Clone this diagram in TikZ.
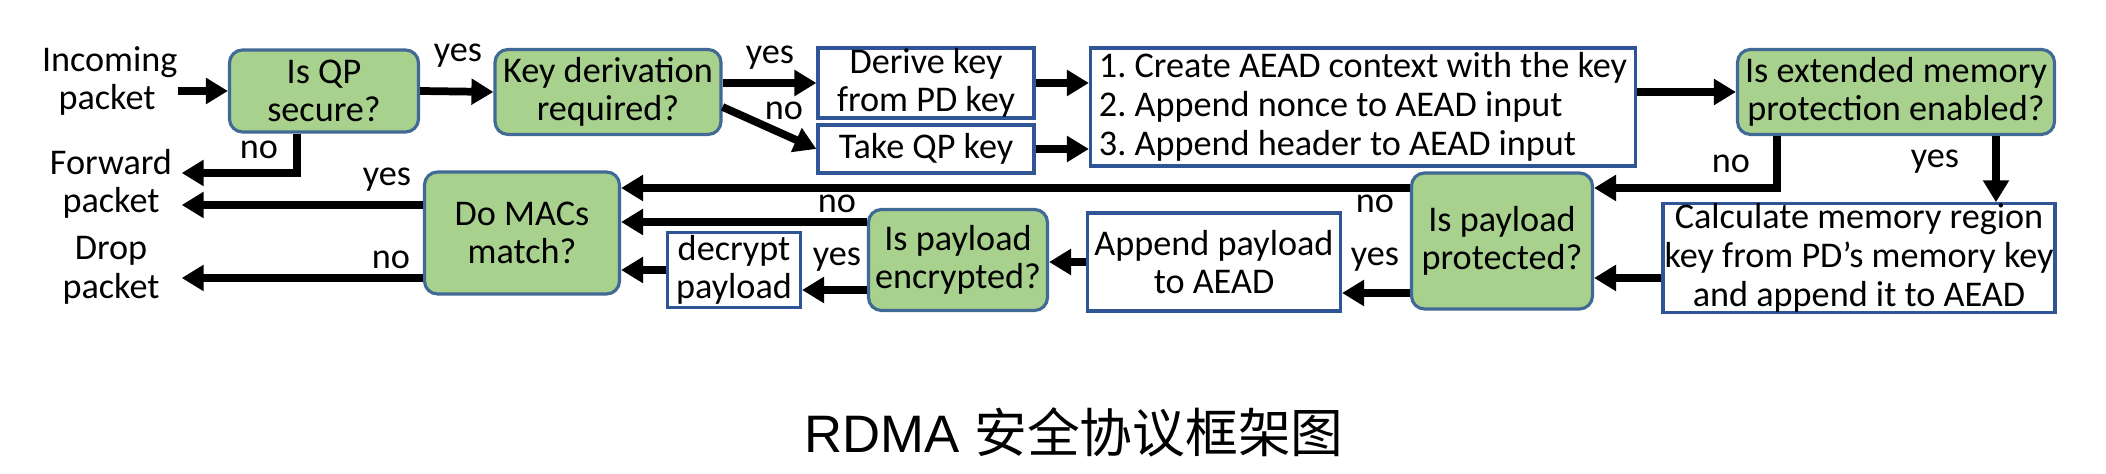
\documentclass[tikz,border=0pt]{standalone}
\usepackage{fontspec}
\setmainfont{Carlito}
\newfontfamily\titlefont{Liberation Sans}
\newfontfamily\cjk{Noto Sans CJK SC}
\usetikzlibrary{arrows.meta}

\definecolor{boxgreen}{RGB}{169,209,142}
\definecolor{boxedge}{RGB}{65,105,150}
\definecolor{rectedge}{RGB}{47,85,151}

\begin{document}
\frenchspacing
\begin{tikzpicture}[font=\fontsize{10.3}{11}\selectfont,
    >={Triangle[length=0.22cm,width=0.25cm]},
    decision/.style={draw=boxedge, fill=boxgreen, line width=0.9pt, rounded corners=0.13cm, align=center, inner sep=0pt},
    proc/.style={draw=rectedge, fill=white, line width=0.9pt, align=center, inner sep=0pt},
    term/.style={align=center, text width=1.3cm, inner xsep=0.05cm},
    flow/.style={->, line width=2.2pt},
    lbl/.style={inner sep=0pt}]

    \useasboundingbox (0,0) rectangle (21.06,4.74);

    % --- Riga superiore ---
    \node[term] (in) at (1.07,3.93) {Incoming\\packet};
    \node[decision, minimum width=1.89cm, minimum height=0.82cm] (qp) at (3.24,3.83) {Is QP\\secure?};
    \node[decision, minimum width=2.26cm, minimum height=0.85cm] (kd) at (6.08,3.82) {Key derivation\\required?};
    \node[proc, minimum width=2.16cm, minimum height=0.70cm] (dk) at (9.26,3.91) {Derive key\\from PD key};
    \node[proc, minimum width=2.16cm, minimum height=0.48cm] (tq) at (9.26,3.25) {Take QP key};
    \node[proc, align=left, minimum width=5.45cm, minimum height=1.18cm] (aead) at (13.63,3.67)
        {1. Create AEAD context with the key\\2. Append nonce to AEAD input\\3. Append header to AEAD input};
    \node[decision, minimum width=3.17cm, minimum height=0.85cm] (ext) at (18.96,3.82) {Is extended memory\\protection enabled?};

    % --- Riga inferiore ---
    \node[proc, minimum width=3.92cm, minimum height=1.07cm] (calc) at (18.59,2.16)
        {Calculate memory region\\key from PD’s memory key\\and append it to AEAD};
    \node[decision, minimum width=1.81cm, minimum height=1.36cm] (prot) at (15.02,2.33) {Is payload\\protected?};
    \node[proc, minimum width=2.53cm, minimum height=0.98cm] (app) at (12.14,2.12) {Append payload\\to AEAD};
    \node[decision, minimum width=1.79cm, minimum height=1.01cm] (enc) at (9.58,2.14) {Is payload\\encrypted?};
    \node[proc, minimum width=1.33cm, minimum height=0.75cm] (dec) at (7.34,2.04) {decrypt\\payload};
    \node[decision, minimum width=1.95cm, minimum height=1.22cm] (mac) at (5.22,2.41) {Do MACs\\match?};
    \node[term] (fwd) at (1.11,2.90) {Forward\\packet};
    \node[term] (drop) at (1.11,2.04) {Drop\\packet};

    % --- Frecce ---
    \draw[flow] (in.east |- qp.west) -- (qp.west);
    \draw[flow] (qp.east) -- (kd.west);
    \draw[flow] ([xshift=-0.27cm]qp.south) |- ([yshift=0.11cm]fwd.east);
    \draw[flow] (kd.east |- dk.west) -- (dk.west);
    \draw[flow] ([yshift=-0.15cm]kd.east) -- (tq.west);
    \draw[flow] (dk.east) -- (dk.east -| aead.west);
    \draw[flow] (tq.east) -- (tq.east -| aead.west);
    \draw[flow] (ext.west -| aead.east) -- (ext.west);
    \draw[flow] ([xshift=-1.19cm]ext.south) |- ([yshift=0.53cm]prot.east);
    \draw[flow] ([xshift=1.0cm]ext.south) -- ([xshift=1.0cm]ext.south |- calc.north);
    \draw[flow] ([yshift=-0.2cm]calc.west) -- ([yshift=-0.2cm]calc.west -| prot.east);
    \draw[flow] ([yshift=0.53cm]prot.west) -- ([yshift=0.53cm]prot.west -| mac.east);
    \draw[flow] ([yshift=-0.52cm]prot.west) -- ([yshift=-0.52cm]prot.west -| app.east);
    \draw[flow] (app.west) -- (app.west -| enc.east);
    \draw[flow] ([yshift=0.38cm]enc.west) -- ([yshift=0.38cm]enc.west -| mac.east);
    \draw[flow] ([yshift=-0.3cm]enc.west) -- ([yshift=-0.3cm]enc.west -| dec.east);
    \draw[flow] (dec.west) -- (dec.west -| mac.east);
    \draw[flow] ([yshift=0.28cm]mac.west) -- ([yshift=0.28cm]mac.west -| fwd.east);
    \draw[flow] ([yshift=-0.45cm]mac.west) -- ([yshift=-0.45cm]mac.west -| drop.east);

    % --- Etichette yes / no ---
    \node[lbl] (qpyes) at (4.58,4.18) {yes};
    \node[lbl] (qpno) at (2.59,3.24) {no};
    \node[lbl] (kdyes) at (7.70,4.16) {yes};
    \node[lbl] (kdno) at (7.84,3.63) {no};
    \node[lbl] (extno) at (17.31,3.10) {no};
    \node[lbl] (extyes) at (19.35,3.12) {yes};
    \node[lbl] (protno) at (13.75,2.70) {no};
    \node[lbl] (protyes) at (13.75,2.14) {yes};
    \node[lbl] (encno) at (8.37,2.70) {no};
    \node[lbl] (encyes) at (8.37,2.14) {yes};
    \node[lbl] (macyes) at (3.87,2.94) {yes};
    \node[lbl] (macno) at (3.91,2.14) {no};

    % --- Titolo ---
    \node (title) at (10.74,0.42) {\titlefont\fontsize{15}{18}\selectfont RDMA {\cjk 安全协议框架图}};

\end{tikzpicture}
\end{document}
